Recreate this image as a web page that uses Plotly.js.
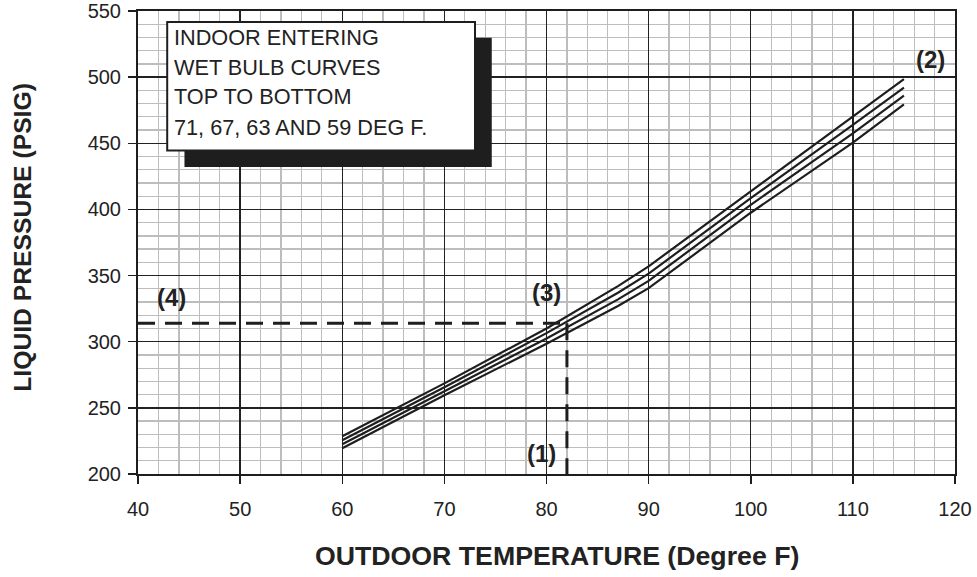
<!DOCTYPE html>
<html>
<head>
<meta charset="utf-8">
<script src="https://cdn.plot.ly/plotly-3.0.1.min.js"></script>
<style>
  html, body { margin: 0; padding: 0; background: #fff; }
  #chart { width: 977px; height: 577px; }
</style>
</head>
<body>
<div id="chart"></div>
<script>
// Outdoor temperature (deg F)
const outdoorTemp = [60, 70, 80, 87, 90, 100, 110, 115];
// Liquid pressure (PSIG) per indoor entering wet bulb temperature
const wb71 = [228.5, 268.5, 310, 342, 357, 413.5, 470, 498.5];
const wb67 = [225.5, 265.5, 306.5, 337, 351.5, 408.5, 464, 492];
const wb63 = [222.5, 262.5, 302.5, 332, 346, 403.5, 457.5, 486];
const wb59 = [219.5, 259.5, 298.5, 327, 340.5, 397.5, 450.5, 479.5];
const seriesNames = ['71 DEG F', '67 DEG F', '63 DEG F', '59 DEG F'];

// Example reading: (1) outdoor temp -> (3) curve -> (4) pressure
const readTemp = 82;
const readPressure = 314;

const xTicks = [40, 50, 60, 70, 80, 90, 100, 110, 120];
const yTicks = [200, 250, 300, 350, 400, 450, 500, 550];
const boxLines = ['INDOOR ENTERING', 'WET BULB CURVES', 'TOP TO BOTTOM', '71, 67, 63 AND 59 DEG F.'];

const FONT = 'Liberation Sans, Arial, Helvetica, sans-serif';
const INK = '#1e1e1e';

const curveData = [wb71, wb67, wb63, wb59];
const traces = curveData.map((ys, i) => ({
  type: 'scatter', mode: 'lines', x: outdoorTemp, y: ys, name: seriesNames[i],
  line: { color: INK, width: 2.2 }, hoverinfo: 'x+y+name'
}));

traces.push({
  type: 'scatter', mode: 'lines', x: [xTicks[0], readTemp], y: [readPressure, readPressure],
  line: { color: INK, width: 3, dash: '17px,10px' }, hoverinfo: 'skip'
});
traces.push({
  type: 'scatter', mode: 'lines', x: [readTemp, readTemp], y: [readPressure, yTicks[0]],
  line: { color: INK, width: 3, dash: '17px,10px' }, hoverinfo: 'skip'
});

const axisCommon = {
  showline: true, linecolor: INK, linewidth: 2, mirror: true,
  ticks: 'outside', ticklen: 8, tickwidth: 1.5, tickcolor: INK,
  showgrid: true, gridcolor: '#222', gridwidth: 1.3,
  zeroline: false,
  tickfont: { family: FONT, size: 20, color: '#222' },
  fixedrange: true
};

const annotations = boxLines.map((t, i) => ({
  xref: 'x', yref: 'y', x: 43.35, y: [529.8, 507.2, 485.3, 461.9][i],
  xanchor: 'left', yanchor: 'middle', text: t, showarrow: false,
  font: { family: FONT, size: 21.7, color: '#222' }
}));

const markLabels = [
  { t: '(1)', x: 79.5, y: 215.5 },
  { t: '(2)', x: 117.6, y: 513 },
  { t: '(3)', x: 80.0, y: 337 },
  { t: '(4)', x: 43.3, y: 333.7 }
];
markLabels.forEach(m => annotations.push({
  xref: 'x', yref: 'y', x: m.x, y: m.y, xanchor: 'center', yanchor: 'middle',
  text: '<b>' + m.t + '</b>', showarrow: false,
  font: { family: FONT, size: 24, color: '#222' }
}));

annotations.push({
  xref: 'paper', yref: 'paper', x: 0.513, y: -0.178, xanchor: 'center', yanchor: 'middle',
  text: '<b>OUTDOOR TEMPERATURE (Degree F)</b>', showarrow: false,
  font: { family: FONT, size: 26.7, color: '#222' }
});
annotations.push({
  xref: 'paper', yref: 'paper', x: -0.141, y: 0.512, xanchor: 'center', yanchor: 'middle',
  textangle: -90, text: '<b>LIQUID PRESSURE (PSIG)</b>', showarrow: false,
  font: { family: FONT, size: 24.7, color: '#222' }
});

const layout = {
  width: 977, height: 577,
  margin: { l: 137.5, r: 21.5, t: 11, b: 102.5, pad: 0 },
  paper_bgcolor: '#fff', plot_bgcolor: '#fff',
  showlegend: false,
  xaxis: Object.assign({}, axisCommon, {
    range: [xTicks[0], xTicks[xTicks.length - 1]],
    tickvals: xTicks, ticktext: xTicks.map(String),
    ticklabelstandoff: 8,
    minor: { dtick: 2, showgrid: true, gridcolor: '#bdbdbd', gridwidth: 1.3, ticks: '' }
  }),
  yaxis: Object.assign({}, axisCommon, {
    range: [yTicks[0], yTicks[yTicks.length - 1]],
    tickvals: yTicks, ticktext: yTicks.map(String),
    ticklabelstandoff: 3,
    minor: { dtick: 10, showgrid: true, gridcolor: '#bdbdbd', gridwidth: 1.3, ticks: '' }
  }),
  shapes: [
    { type: 'rect', xref: 'x', yref: 'y', x0: 44.55, x1: 74.64, y0: 432.0, y1: 529.8,
      fillcolor: '#1e1e1e', line: { width: 0 }, layer: 'above' },
    { type: 'rect', xref: 'x', yref: 'y', x0: 42.86, x1: 73.0, y0: 444.5, y1: 541.7,
      fillcolor: '#ffffff', line: { color: INK, width: 2 }, layer: 'above' }
  ],
  annotations: annotations
};

Plotly.newPlot('chart', traces, layout, { displayModeBar: false, staticPlot: true });
</script>
</body>
</html>
